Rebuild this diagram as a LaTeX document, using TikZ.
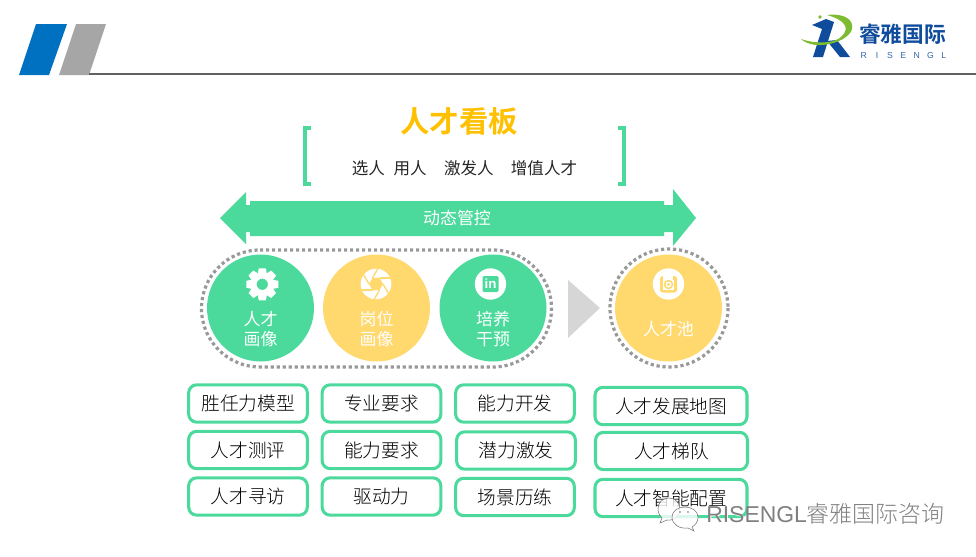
\documentclass[tikz,border=0pt]{standalone}
\usepackage{fontspec}
\setmainfont{Noto Sans CJK SC}[UprightFont=* Light,BoldFont=* Bold]
\newfontfamily\regularfont{Noto Sans CJK SC}
\newfontfamily\latinfont{Liberation Sans}
\usepackage{xcolor}
\definecolor{mint}{HTML}{4BDA9C}
\definecolor{sand}{HTML}{FFD86E}
\definecolor{amber}{HTML}{FFC000}
\definecolor{corpblue}{HTML}{0070C0}
\definecolor{logoblue}{HTML}{0F4C9C}
\definecolor{logogreen}{HTML}{7DBB32}
\tikzset{
  tagbox/.style={draw=mint,line width=2.3pt,rounded corners=6pt,minimum width=89pt,minimum height=28pt,inner sep=0pt,font=\fontsize{14}{16}\selectfont,text=black},
  bigbox/.style={tagbox,minimum width=114pt},
  disc/.style={circle,minimum size=80.25pt,inner sep=0pt},
  disclabel/.style={text=white,align=center,font=\regularfont\fontsize{12.7}{14.6}\selectfont},
  dotline/.style={draw=black!40,line width=2.4pt,dash pattern=on 2.4pt off 2.1pt},
  icondisc/.style={circle,fill=white,minimum size=23.5pt,inner sep=0pt},
  bubble/.style={fill=white,fill opacity=0.8,draw=black!55,line width=0.4pt}
}
\begin{document}
\begin{tikzpicture}[x=0.75pt,y=-0.75pt]
\useasboundingbox (0,0) rectangle (976,557);
% header
\fill[corpblue] (36,24) -- (67,24) -- (49,75) -- (19,75) -- cycle;
\fill[black!35] (76,24) -- (106,24) -- (89,75) -- (59,75) -- cycle;
\draw[black!62,line width=1.3pt] (89,74) -- (976,74);
% logo
\fill[logoblue] (812,25) -- (826,19) -- (834,22) -- (823,57) -- (813,57) -- (822,29) -- cycle;
\fill[logoblue] (827,41) -- (837,40) -- (850,57) -- (840,57) -- cycle;
\fill[logogreen] (801,39) .. controls (815,44) and (835,44) .. (842,36) .. controls (850,28) and (845,20) .. (827,15) .. controls (845,13) and (854,20) .. (852,29) .. controls (849,42) and (815,52) .. (801,39) -- cycle;
\fill[logogreen] (820,17) circle (1.8);
\node[text=logoblue,font=\fontsize{16.3}{19}\bfseries\selectfont,inner sep=0pt] (logotext) at (902.5,34) {睿雅国际};
\node[text=logoblue!85,font=\latinfont\fontsize{6.5}{7}\selectfont,inner sep=0pt] (logosub) at (903.5,55.5) {R\hspace{6.6pt}I\hspace{6.6pt}S\hspace{5.6pt}E\hspace{5.6pt}N\hspace{5.6pt}G\hspace{5.6pt}L};
% title
\node[text=amber,font=\fontsize{22}{24}\bfseries\selectfont,inner sep=0pt] (title) at (459,121) {人才看板};
\node[text=black!85,font=\regularfont\fontsize{12.4}{14}\selectfont,inner sep=0pt] (subtitle) at (464.5,168) {选人\hspace{6.5pt}用人\hspace{13pt}激发人\hspace{13pt}增值人才};
\draw[mint,line width=3pt] (311,128) -- (305,128) -- (305,184) -- (311,184);
\draw[mint,line width=3pt] (618,128) -- (624,128) -- (624,184) -- (618,184);
% double arrow
\fill[mint] (220,218) -- (246,192) -- (246,205) -- (250,205) -- (250,201) -- (664,201) -- (664,205) -- (673,205) -- (673,189) -- (696,218) -- (673,246) -- (673,232) -- (664,232) -- (664,236) -- (250,236) -- (250,232) -- (246,232) -- (246,244) -- cycle;
\node[text=white,font=\regularfont\fontsize{12.7}{15}\selectfont,inner sep=0pt] (control) at (457,218) {动态管控};
% dotted outlines
\draw[dotline] (260,250) -- (493,250) arc (-90:90:58.5) -- (260,367) arc (90:270:58.5) -- cycle;
\draw[dotline] (669,308) circle (59);
% circles
\node[disc,fill=mint] (portrait) at (260.5,308) {};
\node[disc,fill=sand] (post) at (376.5,308) {};
\node[disc,fill=mint] (train) at (493,308) {};
\node[disc,fill=sand] (pool) at (668.5,308) {};
\node[disclabel] (portraitlabel) at (260.5,329) {人才\\画像};
\node[disclabel] (postlabel) at (376.5,329) {岗位\\画像};
\node[disclabel] (trainlabel) at (493,329) {培养\\干预};
\node[disclabel] (poollabel) at (668.5,329) {人才池};
% gear icon
\foreach \a in {0,45,...,315}
  \fill[white,rotate around={\a:(262.3,284.3)}] (257.3,276) -- (258.8,268.3) -- (265.8,268.3) -- (267.3,276) -- cycle;
\fill[white,even odd rule] (262.3,284.3) circle (11.5) (262.3,284.3) circle (5.7);
% aperture icon
\node[icondisc,minimum size=23pt] (shutter) at (376,284) {};
\fill[sand,shift={(376,284)}] (0:7) -- (60:7) -- (120:7) -- (180:7) -- (240:7) -- (300:7) -- cycle;
\foreach \a in {0,60,...,300}
  \draw[sand,line width=1pt,shift={(376,284)}] (\a:7) -- ++(\a+60:11);
% linkedin icon
\node[icondisc] (link) at (490.5,284) {};
\fill[mint,rounded corners=1pt] (482.5,276) rectangle (498.5,292);
\node[text=white,font=\latinfont\bfseries\fontsize{10}{11}\selectfont,inner sep=0pt] (linktext) at (490.5,284) {in};
% camera icon
\node[icondisc] (camera) at (668.5,284) {};
\fill[sand,rounded corners=2pt] (660,276) rectangle (677,292.5);
\fill[white] (663,275.5) rectangle (672.5,279.5);
\fill[white] (663,279.5) rectangle (674,289.5);
\fill[sand] (668.5,284.5) circle (4.8);
\fill[white] (668.5,284.5) circle (3);
\fill[sand] (668.5,284.5) circle (1.6);
% triangle
\fill[black!16] (568,280) -- (600,308) -- (568,338) -- cycle;
% boxes
\node[tagbox] (modelbox) at (248,403.5) {胜任力模型};
\node[tagbox] (testbox) at (248,450) {人才测评};
\node[tagbox] (visitbox) at (248,496.5) {人才寻访};
\node[tagbox] (majorbox) at (381.5,403.5) {专业要求};
\node[tagbox] (abilitybox) at (381.5,450) {能力要求};
\node[tagbox] (drivebox) at (381.5,496.5) {驱动力};
\node[tagbox] (developbox) at (515,403.5) {能力开发};
\node[tagbox] (potentialbox) at (516,450.5) {潜力激发};
\node[tagbox] (scenebox) at (515,497) {场景历练};
\node[bigbox] (mapbox) at (671,406) {人才发展地图};
\node[bigbox] (teambox) at (671.5,451) {人才梯队};
\node[bigbox] (smartbox) at (671,498) {人才智能配置};
% watermark
\node[text=white,font=\regularfont\fontsize{17.2}{20}\selectfont,inner sep=0pt,anchor=west] (markshadow) at (707,514.5) {{\latinfont RISENGL}睿雅国际咨询};
\node[text=black!50,font=\fontsize{17.2}{20}\selectfont,inner sep=0pt,anchor=west] (marktext) at (706,514) {{\latinfont RISENGL}睿雅国际咨询};
\draw[bubble] (662,518) -- (660,523) -- (667,520) .. controls (675,521) and (680,515) .. (680,509) .. controls (680,503) and (675,498) .. (669,498) .. controls (662,498) and (658,503) .. (658,509) .. controls (658,513) and (660,516) .. (662,518) -- cycle;
\draw[bubble] (692,527) -- (694,531) -- (688,528) .. controls (680,529) and (672,525) .. (672,517) .. controls (672,511) and (678,507) .. (685,507) .. controls (692,507) and (698,511) .. (698,517) .. controls (698,521) and (696,525) .. (692,527) -- cycle;
\fill[black!55] (680,512) circle (0.9);
\fill[black!55] (688,512) circle (0.9);
\end{tikzpicture}
\end{document}
